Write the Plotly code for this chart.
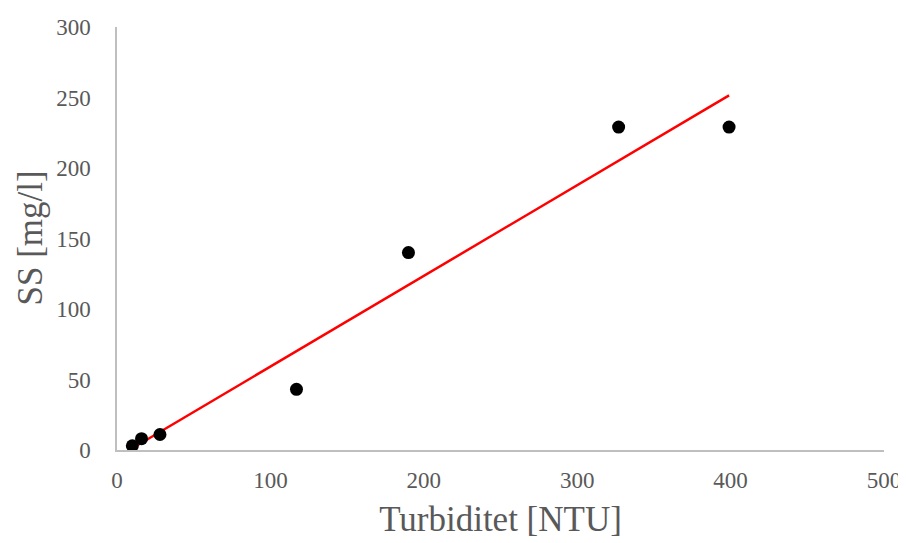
import numpy as np
import plotly.graph_objects as go

turbidity = [10, 16, 28, 117, 190, 327, 399]
ss = [3, 8, 11, 43, 140, 229, 229]

x_ticks = [0, 100, 200, 300, 400, 500]
y_ticks = [0, 50, 100, 150, 200, 250, 300]

slope, intercept = np.polyfit(turbidity, ss, 1)
trend_x = [min(turbidity), max(turbidity)]
trend_y = [slope * v + intercept for v in trend_x]

fig = go.Figure()
fig.add_trace(go.Scatter(x=trend_x, y=trend_y, mode="lines",
                         line=dict(color="#ff0000", width=2.5), showlegend=False))
fig.add_trace(go.Scatter(x=turbidity, y=ss, mode="markers",
                         marker=dict(color="black", size=13), showlegend=False))

font_family = "Liberation Serif, Times New Roman, serif"
grey = "#595959"
fig.update_layout(
    width=898, height=535,
    margin=dict(l=109, r=22, t=19, b=93),
    plot_bgcolor="white", paper_bgcolor="white",
    font=dict(family=font_family, color=grey),
    xaxis=dict(range=[0, 500], tickvals=x_ticks, showgrid=False, zeroline=False,
               showline=True, linecolor="#bfbfbf", linewidth=1.5, automargin=False,
               tickfont=dict(size=23, color=grey), ticks="", ticklabelstandoff=9,
               title=dict(text="Turbiditet [NTU]", font=dict(size=35, color=grey), standoff=14)),
    yaxis=dict(range=[0, 300], tickvals=y_ticks, showgrid=False, zeroline=False,
               showline=True, linecolor="#bfbfbf", linewidth=1.5, automargin=False,
               tickfont=dict(size=23, color=grey), ticks="", ticklabelstandoff=20),
    annotations=[dict(text="SS [mg/l]", textangle=-90, xref="paper", yref="paper",
                      x=0, y=0.5, xanchor="center", yanchor="middle", xshift=-87,
                      showarrow=False, font=dict(size=35, color=grey))],
)
fig.write_html("out.html")
